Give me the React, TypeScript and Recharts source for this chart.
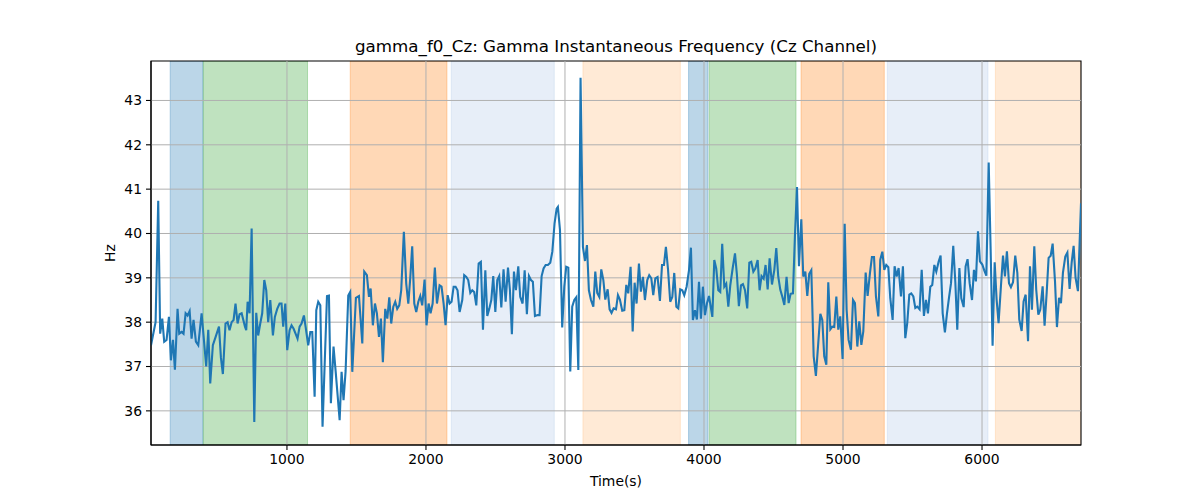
import React from "react";
import {
  LineChart,
  Line,
  XAxis,
  YAxis,
  ReferenceArea,
  ReferenceLine,
} from "recharts";

// ---- Data ----
const times: number[] = [
  22, 55, 74, 88, 103, 117, 134, 151, 165, 180, 194, 213, 225, 242, 256, 271, 285, 300, 314, 328,
  345, 362, 386, 400, 419, 434, 448, 467, 487, 511, 525, 539, 558, 573, 587, 602, 616, 630, 645, 659,
  674, 698, 707, 717, 731, 746,
  765, 779, 793, 808, 822, 837, 851, 865, 880, 899, 913, 930, 947, 961, 973, 988, 1002, 1019, 1033, 1048,
  1062, 1076, 1091, 1105, 1122, 1134, 1153, 1168, 1182, 1199, 1211, 1225, 1240, 1256, 1288, 1302, 1316,
  1335, 1350, 1379, 1393, 1407, 1422, 1441, 1455, 1470, 1496,
  1518, 1542, 1556, 1575, 1590, 1602, 1618, 1633, 1647, 1662, 1676, 1690, 1707, 1722, 1736, 1750, 1765,
  1779, 1793, 1808, 1822, 1841, 1858, 1873, 1887, 1901, 1916, 1930, 1945, 1959, 1973, 1990, 2004, 2019,
  2033, 2048, 2064, 2079, 2098, 2112, 2127, 2141, 2156, 2170, 2184, 2199, 2213, 2227, 2242,
  2261, 2275, 2290, 2304, 2319, 2333, 2347, 2362, 2379, 2395, 2410, 2427, 2441, 2455, 2470, 2484, 2499,
  2513, 2527, 2542, 2558, 2573, 2590, 2604, 2618, 2633, 2647, 2664, 2678, 2695, 2710, 2726, 2741, 2755,
  2769, 2784, 2803, 2817, 2832, 2846, 2861, 2877, 2894, 2909, 2925, 2940, 2949, 2964, 2980, 2995,
  3009, 3024, 3038, 3052, 3067, 3081, 3096, 3112, 3129, 3144, 3158, 3172, 3187, 3204, 3218, 3232, 3247,
  3261, 3276, 3290, 3307, 3321, 3335, 3350, 3367, 3381, 3395, 3412, 3427, 3441, 3455, 3472, 3487, 3501,
  3515, 3532, 3546, 3561, 3575, 3592, 3606, 3621, 3635, 3650, 3666, 3683, 3698, 3712, 3726, 3741,
  3757, 3772, 3786, 3801, 3815, 3829, 3844, 3858, 3875, 3892, 3906, 3920, 3935, 3949, 3964, 3978, 3992,
  4007, 4021, 4036, 4060, 4074, 4088, 4103, 4117, 4131, 4146, 4160, 4175, 4189, 4206, 4223, 4237, 4251,
  4266, 4280, 4295, 4311, 4326, 4340, 4355, 4369, 4386, 4400, 4414, 4429, 4443, 4458, 4472, 4489,
  4506, 4520, 4534, 4549, 4563, 4578, 4594, 4609, 4623, 4640, 4654, 4669, 4683, 4700, 4714, 4729, 4743,
  4757, 4772, 4789, 4805, 4822, 4837, 4851, 4865, 4880, 4894, 4909, 4923, 4937, 4952, 4966, 4980, 4997,
  5012, 5026, 5040, 5057, 5072, 5086, 5103, 5117, 5132, 5146, 5163, 5177, 5194, 5208, 5223, 5237,
  5254, 5268, 5283, 5297, 5311, 5326, 5340, 5357, 5371, 5386, 5400, 5417, 5431, 5448, 5462, 5477, 5491,
  5506, 5520, 5534, 5551, 5566, 5582, 5597, 5611, 5628, 5642, 5657, 5671, 5688, 5702, 5717, 5733, 5748,
  5762, 5777, 5793, 5808, 5822, 5837, 5851, 5868, 5882, 5896, 5911, 5928, 5942, 5956, 5971, 5985,
  6002, 6016, 6031, 6048, 6062, 6076, 6091, 6105, 6119, 6136, 6151, 6165, 6179, 6194, 6208, 6223, 6239,
  6254, 6268, 6285, 6299, 6314, 6331, 6345, 6359, 6376, 6390, 6405, 6419, 6436, 6450, 6465, 6479, 6494,
  6508, 6525, 6539, 6554, 6568, 6582, 6599, 6614, 6630, 6645, 6659, 6673, 6690, 6712,
];

const gammaHz: number[] = [
  37.48, 38.0, 40.74, 37.74, 38.08, 37.56, 37.6, 38.12, 37.14, 37.6, 36.93, 38.3, 37.74, 37.78, 37.74, 38.2, 38.15, 38.25, 37.63, 38.05,
  37.56, 37.48, 38.2, 37.7, 37.0, 37.83, 36.62, 37.48, 37.67, 37.9, 37.2, 36.83, 37.97, 38.0, 37.82, 38.0, 38.05, 38.42, 37.97, 38.18,
  38.2, 37.9, 37.82, 38.46, 38.2, 40.11,
  35.75, 38.21, 37.7, 37.97, 38.2, 38.95, 38.72, 38.0, 38.5, 37.7, 38.12, 38.3, 38.42, 38.42, 37.9, 38.42, 37.37, 37.82, 37.93, 37.85,
  37.74, 37.63, 37.9, 37.97, 38.15, 37.9, 37.48, 37.78, 37.78, 36.32, 38.27, 38.46, 38.38, 35.64, 38.59, 38.6, 36.17,
  37.45, 36.9, 35.79, 36.88, 36.24, 36.9, 38.6, 38.68, 36.88, 38.55,
  38.59, 37.52, 39.14, 39.06, 38.57, 38.76, 37.93, 38.42, 38.2, 37.67, 38.08, 37.1, 38.3, 38.08, 38.56, 37.97, 38.35,
  38.46, 38.3, 38.38, 38.72, 40.04, 38.87, 38.42, 39.0, 39.71, 38.42, 38.23, 38.46, 38.59, 38.38, 38.96, 37.93, 38.42,
  38.2, 38.42, 39.23, 38.42, 38.83, 38.8, 38.42, 37.93, 38.61, 38.42, 38.46, 38.8, 38.8, 38.72, 38.23,
  38.5, 39.06, 39.02, 38.95, 38.66, 38.72, 38.68, 38.38, 39.32, 39.36, 37.83, 39.17, 38.14, 38.3, 38.5, 39.04, 38.23,
  38.95, 39.04, 38.33, 39.19, 38.46, 39.23, 38.72, 37.73, 39.14, 38.72, 39.26, 38.57, 38.42, 39.17, 38.18, 39.04, 38.95,
  38.91, 38.14, 38.16, 38.16, 39.04, 39.21, 39.29, 39.29, 39.34, 39.59, 40.23, 40.56, 40.6, 40.08, 37.88, 38.8,
  39.25, 39.23, 36.89, 38.35, 38.5, 38.56, 36.92, 43.51, 39.7, 39.38, 39.74, 38.72, 38.5, 38.35, 39.14, 38.66, 38.57,
  39.19, 38.95, 38.51, 38.74, 38.29, 38.21, 38.31, 38.29, 38.61, 38.51, 38.26, 38.27, 38.84, 38.65, 39.25, 37.79, 38.89,
  38.42, 39.32, 38.69, 39.02, 38.5, 38.95, 39.06, 38.99, 38.61, 38.99, 39.02, 38.48, 39.29, 39.29, 39.7, 39.2,
  38.46, 38.57, 39.11, 38.35, 38.31, 38.74, 38.72, 38.61, 38.8, 39.17, 39.68, 38.05, 38.27, 38.06, 38.91, 38.08, 38.8,
  38.16, 38.42, 38.59, 38.12, 39.4, 39.21, 38.72, 38.68, 39.77, 38.8, 38.87, 38.35, 38.83, 39.21, 39.55, 39.06, 38.36,
  38.83, 38.86, 38.72, 38.31, 39.34, 39.36, 39.14, 39.21, 39.4, 38.72, 39.04, 38.98, 39.29, 38.74, 39.44, 38.85,
  39.18, 39.67, 39.03, 38.73, 38.58, 38.39, 39.02, 38.43, 38.64, 38.65, 39.93, 41.05, 39.26, 40.32, 39.03, 39.14, 38.59,
  39.09, 39.17, 37.23, 36.79, 37.53, 38.19, 38.05, 37.23, 37.04, 38.9, 37.84, 37.9, 37.89, 38.58, 37.83, 38.13, 37.17,
  40.22, 38.28, 37.6, 37.38, 38.5, 38.43, 37.45, 38.02, 37.49, 37.79, 39.12, 38.59, 39.11, 39.47, 39.47, 38.58,
  38.13, 39.41, 39.59, 39.18, 39.29, 39.24, 38.54, 38.05, 39.26, 39.03, 39.22, 38.58, 39.26, 37.64, 37.98, 38.62, 38.65,
  38.58, 38.32, 38.35, 38.29, 39.18, 38.14, 38.5, 38.2, 38.8, 38.84, 39.29, 39.14, 39.37, 39.5, 38.2, 37.77, 38.2,
  38.54, 38.88, 39.72, 38.9, 37.83, 39.22, 38.54, 38.34, 39.26, 39.42, 38.88, 38.5, 39.18, 38.92, 40.05, 39.37,
  39.3, 39.17, 39.05, 41.6, 39.63, 37.47, 39.35, 38.51, 37.98, 38.81, 39.5, 39.03, 39.6, 38.88, 38.79, 38.9, 39.5,
  39.11, 38.06, 37.8, 38.47, 38.62, 37.57, 39.26, 38.28, 39.71, 38.73, 38.17, 38.28, 38.81, 37.92, 38.66, 39.45, 39.5,
  39.77, 38.92, 37.89, 38.55, 38.43, 39.11, 39.48, 39.57, 38.75, 39.35, 39.72, 39.0, 38.7, 40.68,
];

// shaded phases
const bandStarts: number[] = [160, 398, 1455, 2182, 3129, 3889, 4038, 4698, 5319, 6096];
const bandEnds: number[] = [396, 1148, 2151, 2923, 3830, 4029, 4662, 5297, 6043, 6712];
const bandColors: string[] = [
  "#1f77b4", "#2ca02c", "#ff7f0e", "#aec7e8", "#ffbb78",
  "#1f77b4", "#2ca02c", "#ff7f0e", "#aec7e8", "#ffbb78",
];

const xTicks: number[] = [1000, 2000, 3000, 4000, 5000, 6000];
const yTicks: number[] = [36, 37, 38, 39, 40, 41, 42, 43];
const X_MIN = 22;
const X_MAX = 6712;
const Y_MIN = 35.23;
const Y_MAX = 43.89;

const TITLE = "gamma_f0_Cz: Gamma Instantaneous Frequency (Cz Channel)";
const X_LABEL = "Time(s)";
const Y_LABEL = "Hz";

const chartData = times.map((t, i) => ({ t, hz: gammaHz[i] }));

const FONT = "'DejaVu Sans', sans-serif";
const GRID = "#b0b0b0";

export default function App() {
  const tickStyle = { fontFamily: FONT, fontSize: 13.9, fill: "#000" };
  return (
    <div style={{ position: "absolute", left: 0, top: 0, width: 1200, height: 500, background: "#fff" }}>
      <LineChart
        width={1200}
        height={500}
        data={chartData}
        margin={{ top: 61, right: 119, bottom: 0, left: 0 }}
      >
        {bandStarts.map((s, i) => (
          <ReferenceArea
            key={"band" + i}
            x1={s}
            x2={bandEnds[i]}
            y1={Y_MIN}
            y2={Y_MAX}
            fill={bandColors[i]}
            fillOpacity={0.3}
            stroke={bandColors[i]}
            strokeOpacity={0.3}
            strokeWidth={1}
            ifOverflow="hidden"
          />
        ))}
        {xTicks.map((v) => (
          <ReferenceLine key={"gx" + v} x={v} stroke={GRID} strokeWidth={1} />
        ))}
        {yTicks.map((v) => (
          <ReferenceLine key={"gy" + v} y={v} stroke={GRID} strokeWidth={1} />
        ))}
        <XAxis
          dataKey="t"
          type="number"
          domain={[X_MIN, X_MAX]}
          ticks={xTicks}
          allowDataOverflow
          height={55}
          tickSize={5}
          tickMargin={4}
          tick={tickStyle}
          stroke="#000"
          axisLine={{ stroke: "#000", strokeWidth: 1.1 }}
          tickLine={{ stroke: "#000", strokeWidth: 1.1 }}
        />
        <YAxis
          type="number"
          domain={[Y_MIN, Y_MAX]}
          ticks={yTicks}
          allowDataOverflow
          width={151}
          tickSize={5}
          tickMargin={4}
          tick={tickStyle}
          stroke="#000"
          axisLine={{ stroke: "#000", strokeWidth: 1.1 }}
          tickLine={{ stroke: "#000", strokeWidth: 1.1 }}
        />
        <Line
          type="linear"
          dataKey="hz"
          stroke="#1f77b4"
          strokeWidth={2.1}
          dot={false}
          activeDot={false}
          isAnimationActive={false}
        />
        <ReferenceArea
          x1={X_MIN}
          x2={X_MAX}
          y1={Y_MIN}
          y2={Y_MAX}
          fill="none"
          stroke="#000"
          strokeWidth={1.1}
          ifOverflow="visible"
        />
      </LineChart>
      <svg
        width={1200}
        height={500}
        style={{ position: "absolute", left: 0, top: 0, pointerEvents: "none" }}
      >
        <text x={616} y={52} textAnchor="middle" fontFamily={FONT} fontSize={16.7} fill="#000">
          {TITLE}
        </text>
        <text x={616} y={486} textAnchor="middle" fontFamily={FONT} fontSize={13.9} fill="#000">
          {X_LABEL}
        </text>
        <text
          x={0}
          y={0}
          transform="translate(115,253) rotate(-90)"
          textAnchor="middle"
          fontFamily={FONT}
          fontSize={13.9}
          fill="#000"
        >
          {Y_LABEL}
        </text>
      </svg>
    </div>
  );
}
